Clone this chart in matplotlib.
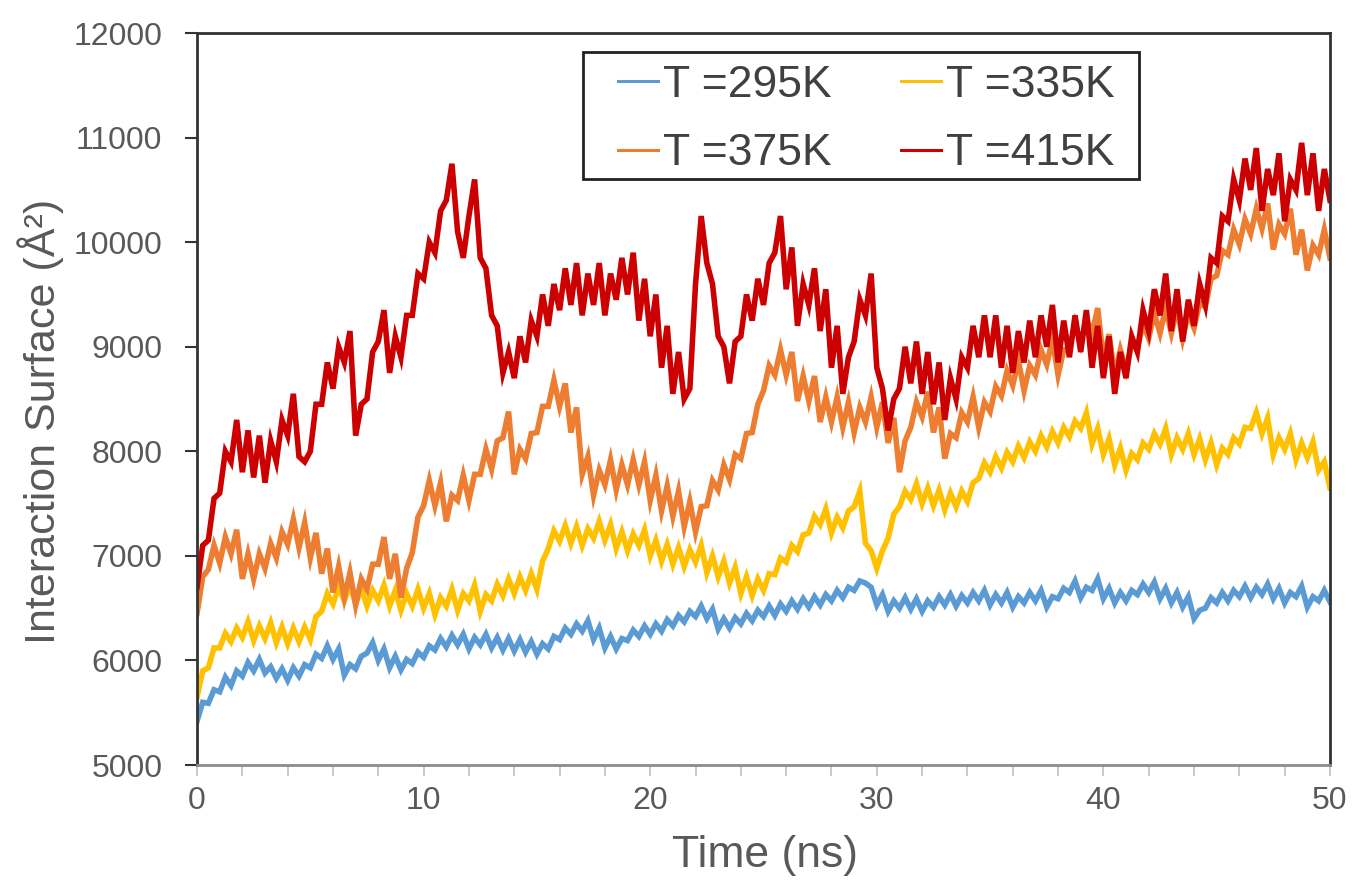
import matplotlib
matplotlib.use("Agg")
import matplotlib.pyplot as plt
import numpy as np
from matplotlib.ticker import MultipleLocator
from matplotlib.patches import Rectangle

# simulation time, one sample every 0.25 ns
time_ns = np.linspace(0, 50, 201)

# interaction surface (A^2)
surf_295 = [
    5420, 5600, 5590, 5720, 5700, 5840, 5760, 5900, 5850, 5980,
    5900, 6010, 5880, 5940, 5830, 5920, 5810, 5930, 5850, 5960,
    5930, 6060, 6020, 6140, 6010, 6110, 5860, 5960, 5920, 6040,
    6070, 6170, 6000, 6110, 5930, 6040, 5910, 6010, 5970, 6080,
    6030, 6140, 6100, 6210, 6130, 6240, 6150, 6250, 6110, 6220,
    6150, 6250, 6120, 6220, 6100, 6210, 6090, 6200, 6080, 6180,
    6060, 6160, 6110, 6230, 6200, 6310, 6250, 6350, 6280, 6380,
    6200, 6310, 6120, 6230, 6110, 6210, 6190, 6290, 6230, 6330,
    6250, 6350, 6280, 6390, 6330, 6430, 6370, 6470, 6420, 6520,
    6400, 6490, 6300, 6400, 6310, 6410, 6350, 6450, 6380, 6480,
    6420, 6520, 6430, 6540, 6470, 6570, 6490, 6590, 6510, 6610,
    6530, 6630, 6570, 6670, 6600, 6700, 6670, 6760, 6740, 6700,
    6530, 6630, 6470, 6570, 6500, 6600, 6490, 6590, 6470, 6570,
    6510, 6610, 6530, 6630, 6520, 6620, 6550, 6650, 6570, 6670,
    6530, 6630, 6550, 6650, 6510, 6610, 6550, 6650, 6570, 6670,
    6510, 6610, 6590, 6690, 6650, 6760, 6600, 6700, 6670, 6780,
    6590, 6690, 6550, 6650, 6570, 6670, 6630, 6730, 6650, 6750,
    6590, 6690, 6550, 6650, 6510, 6610, 6400, 6480, 6500, 6600,
    6550, 6650, 6570, 6670, 6610, 6710, 6600, 6700, 6630, 6730,
    6590, 6690, 6550, 6650, 6610, 6710, 6510, 6610, 6570, 6670,
    6560,
]

surf_335 = [
    5650, 5900, 5930, 6120, 6120, 6260, 6180, 6310, 6220, 6370,
    6190, 6330, 6210, 6360, 6170, 6320, 6160, 6310, 6180, 6320,
    6200, 6420, 6470, 6640, 6540, 6700, 6570, 6720, 6540, 6690,
    6520, 6670, 6570, 6720, 6520, 6670, 6480, 6640, 6520, 6680,
    6500, 6640, 6440, 6600, 6520, 6680, 6480, 6640, 6570, 6720,
    6470, 6630, 6570, 6730, 6620, 6780, 6640, 6800, 6670, 6830,
    6680, 6950, 7070, 7240, 7140, 7290, 7120, 7280, 7100, 7260,
    7170, 7330, 7150, 7300, 7070, 7230, 7050, 7210, 7100, 7250,
    7000, 7150, 6950, 7110, 6920, 7080, 6900, 7060, 6940, 7100,
    6840, 7000, 6800, 6950, 6740, 6890, 6640, 6800, 6620, 6780,
    6670, 6830, 6820, 6980, 6940, 7100, 7040, 7200, 7220, 7380,
    7300, 7450, 7220, 7370, 7270, 7430, 7470, 7620, 7120, 7050,
    6880, 7050, 7170, 7400, 7470, 7620, 7540, 7690, 7500, 7650,
    7480, 7630, 7440, 7600, 7470, 7620, 7520, 7700, 7740, 7890,
    7800, 7950, 7840, 7990, 7900, 8050, 7940, 8090, 8000, 8150,
    8040, 8190, 8080, 8230, 8140, 8290, 8220, 8370, 8070, 8220,
    7970, 8120, 7870, 8030, 7820, 7980, 7920, 8080, 8020, 8170,
    8070, 8220, 7970, 8130, 8020, 8170, 7970, 8120, 7920, 8080,
    7870, 8030, 7970, 8130, 8070, 8230, 8220, 8370, 8170, 8320,
    7970, 8130, 8020, 8170, 7920, 8080, 7940, 8090, 7820, 7900,
    7650,
]

surf_375 = [
    6450, 6800, 6870, 7100, 6930, 7180, 7020, 7250, 6780, 7020,
    6780, 7020, 6880, 7120, 6980, 7230, 7110, 7350, 7080, 7320,
    6980, 7220, 6830, 7070, 6650, 6900, 6600, 6840, 6530, 6780,
    6680, 6920, 6920, 7180, 6780, 7020, 6600, 6880, 7030, 7370,
    7480, 7720, 7480, 7700, 7330, 7580, 7530, 7770, 7530, 7780,
    7780, 8020, 7830, 8100, 8130, 8380, 7780, 8020, 7930, 8170,
    8180, 8430, 8430, 8680, 8430, 8650, 8180, 8420, 7780, 7950,
    7580, 7820, 7680, 7920, 7630, 7870, 7680, 7920, 7680, 7900,
    7530, 7770, 7430, 7670, 7380, 7620, 7280, 7520, 7230, 7470,
    7480, 7720, 7630, 7870, 7730, 7970, 7930, 8170, 8180, 8450,
    8580, 8820, 8730, 8970, 8730, 8950, 8480, 8720, 8480, 8720,
    8280, 8520, 8280, 8520, 8230, 8470, 8180, 8420, 8280, 8520,
    8230, 8470, 8080, 8320, 7800, 8100, 8230, 8470, 8330, 8570,
    8180, 8420, 7930, 8170, 8130, 8370, 8280, 8520, 8230, 8470,
    8380, 8620, 8530, 8770, 8630, 8870, 8580, 8820, 8730, 8970,
    8830, 9070, 8730, 8970, 8980, 9220, 9030, 9270, 9130, 9370,
    8880, 9120, 8730, 8970, 8780, 9020, 8980, 9220, 9080, 9320,
    9130, 9370, 9130, 9370, 9080, 9320, 9180, 9420, 9380, 9650,
    9680, 9920, 9880, 10120, 9980, 10220, 10080, 10320, 10130, 10370,
    9930, 10170, 10080, 10320, 9880, 10120, 9730, 9970, 9880, 10120,
    9850,
]

surf_415 = [
    6700, 7100, 7150, 7550, 7600, 8000, 7900, 8300, 7800, 8200,
    7750, 8150, 7700, 8100, 7900, 8300, 8150, 8550, 7950, 7900,
    8000, 8450, 8450, 8850, 8600, 9000, 8850, 9150, 8150, 8450,
    8500, 8950, 9050, 9350, 8750, 9100, 8900, 9300, 9300, 9700,
    9650, 10000, 9900, 10300, 10400, 10750, 10100, 9850, 10250, 10600,
    9850, 9750, 9300, 9200, 8750, 8950, 8700, 9100, 8850, 9250,
    9100, 9500, 9200, 9600, 9350, 9750, 9400, 9800, 9300, 9700,
    9400, 9800, 9300, 9700, 9450, 9850, 9500, 9900, 9250, 9650,
    9100, 9500, 8800, 9200, 8550, 8950, 8500, 8600, 9600, 10250,
    9800, 9600, 9100, 9000, 8650, 9050, 9100, 9500, 9250, 9650,
    9400, 9800, 9900, 10250, 9550, 9950, 9200, 9600, 9400, 9750,
    9150, 9550, 8800, 9200, 8550, 8900, 9050, 9450, 9300, 9700,
    8800, 8600, 8200, 8500, 8600, 9000, 8650, 9050, 8550, 8950,
    8450, 8850, 8300, 8700, 8500, 8900, 8800, 9200, 8900, 9300,
    8900, 9300, 8800, 9200, 8750, 9150, 8850, 9250, 8900, 9300,
    9000, 9400, 8850, 9250, 8900, 9300, 8950, 9350, 8800, 9200,
    8700, 9100, 8550, 8950, 8700, 9100, 8950, 9350, 9150, 9550,
    9300, 9700, 9150, 9550, 9050, 9450, 9200, 9600, 9400, 9850,
    9800, 10250, 10200, 10600, 10400, 10800, 10500, 10900, 10300, 10700,
    10450, 10850, 10200, 10600, 10500, 10950, 10450, 10850, 10300, 10700,
    10400,
]

labels = ["T =295K", "T =335K", "T =375K", "T =415K"]
colors = ["#5B9BD5", "#FFC000", "#ED7D31", "#CC0000"]

font = ["Liberation Sans", "DejaVu Sans"]
grey = "#595959"

fig = plt.figure(figsize=(13.56, 8.84), dpi=100)
ax = fig.add_axes([0.1453, 0.1346, 0.8355, 0.828])

series = [surf_295, surf_335, surf_375, surf_415]
lines = []
for ys, c, lab in zip(series, colors, labels):
    ln, = ax.plot(time_ns, ys, color=c, lw=4.0, label=lab,
                  solid_joinstyle="miter")
    lines.append(ln)

ax.set_xlim(0, 50)
ax.set_ylim(5000, 12000)
ax.set_yticks(np.arange(5000, 12001, 1000))
ax.set_xticks(np.arange(0, 51, 10))
ax.xaxis.set_minor_locator(MultipleLocator(2))

for side in ["left", "right", "top"]:
    ax.spines[side].set_color("#333333")
    ax.spines[side].set_linewidth(2)
ax.spines["bottom"].set_color("#8c8c8c")
ax.spines["bottom"].set_linewidth(2)

ax.tick_params(axis="y", direction="out", length=9, width=1.5,
               color="#333333", pad=16, labelcolor=grey)
ax.tick_params(axis="x", which="both", direction="out", length=8, width=1.2,
               color="#c0c0c0", pad=7, labelcolor=grey)
for t in ax.get_xticklabels() + ax.get_yticklabels():
    t.set_fontfamily(font)
    t.set_fontsize(23)

fig.text(765 / 1356, 1 - 855 / 884, "Time (ns)", ha="center", va="center",
         fontsize=32, color=grey, family=font)
fig.text(41 / 1356, 1 - 421 / 884, "Interaction Surface (Å²)",
         rotation=90, ha="center", va="center", fontsize=31, color=grey,
         family=font)

# legend frame drawn separately so the inner margins can differ
ax.add_patch(Rectangle((0.3407, 0.8005), 0.4907, 0.1735,
                       transform=ax.transAxes, facecolor="white",
                       edgecolor="#222222", lw=2, zorder=4.5))
order = [0, 2, 1, 3]
leg = ax.legend([lines[i] for i in order], [labels[i] for i in order],
                ncol=2, loc="upper left", bbox_to_anchor=(0.3716, 0.957),
                borderaxespad=0, borderpad=0, frameon=False,
                handlelength=0.9, handletextpad=0.12,
                columnspacing=1.55, labelspacing=0.62,
                prop={"family": font, "size": 32})
for h in leg.get_lines():
    h.set_linewidth(2.2)
for txt in leg.get_texts():
    txt.set_color("#404040")

fig.savefig("out.png", dpi=100)
